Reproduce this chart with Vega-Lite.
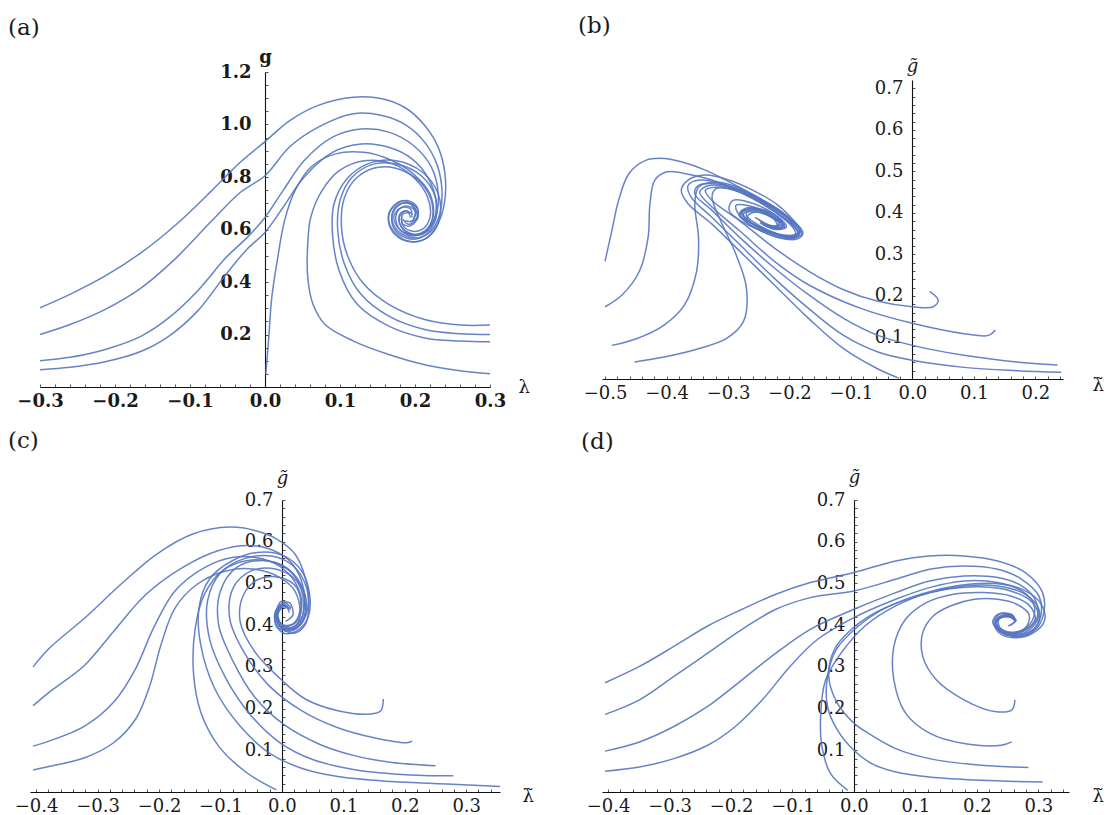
{
  "$schema": "https://vega.github.io/schema/vega-lite/v6.json",
  "padding": {"left": 8, "top": 15, "right": 0, "bottom": 0},
  "background": "white",
  "columns": 2,
  "spacing": {"row": 113, "column": 102},
  "center": true,
  "bounds": "flush",
  "datasets": {
    "a": [
      {"c":1,"x":-0.3,"y":0.302},{"c":1,"x":-0.26,"y":0.353},{"c":1,"x":-0.213,"y":0.423},{"c":1,"x":-0.165,"y":0.512},{"c":1,"x":-0.118,"y":0.62},{"c":1,"x":-0.071,"y":0.748},{"c":1,"x":-0.033,"y":0.856},{"c":1,"x":0,"y":0.935},{"c":1,"x":0.033,"y":1.015},{"c":1,"x":0.071,"y":1.073},{"c":1,"x":0.118,"y":1.104},{"c":1,"x":0.156,"y":1.098},{"c":1,"x":0.189,"y":1.06},{"c":1,"x":0.213,"y":0.996},{"c":1,"x":0.231,"y":0.913},{"c":1,"x":0.24,"y":0.811},{"c":1,"x":0.239,"y":0.697},{"c":1,"x":0.229,"y":0.614},{"c":1,"x":0.213,"y":0.563},{"c":1,"x":0.194,"y":0.554},{"c":1,"x":0.175,"y":0.582},{"c":1,"x":0.165,"y":0.633},{"c":1,"x":0.17,"y":0.684},{"c":1,"x":0.184,"y":0.71},{"c":1,"x":0.198,"y":0.69},{"c":1,"x":0.203,"y":0.646},{"c":1,"x":0.194,"y":0.614},{"c":1,"x":0.184,"y":0.62},{"c":1,"x":0.182,"y":0.646},
      {"c":2,"x":-0.3,"y":0.2},{"c":2,"x":-0.26,"y":0.238},{"c":2,"x":-0.213,"y":0.296},{"c":2,"x":-0.165,"y":0.378},{"c":2,"x":-0.118,"y":0.493},{"c":2,"x":-0.071,"y":0.633},{"c":2,"x":-0.033,"y":0.741},{"c":2,"x":0,"y":0.805},{"c":2,"x":0.033,"y":0.915},{"c":2,"x":0.071,"y":0.99},{"c":2,"x":0.118,"y":1.041},{"c":2,"x":0.156,"y":1.034},{"c":2,"x":0.189,"y":0.996},{"c":2,"x":0.213,"y":0.932},{"c":2,"x":0.229,"y":0.85},{"c":2,"x":0.236,"y":0.748},{"c":2,"x":0.233,"y":0.659},{"c":2,"x":0.222,"y":0.595},{"c":2,"x":0.205,"y":0.569},{"c":2,"x":0.187,"y":0.576},{"c":2,"x":0.172,"y":0.614},{"c":2,"x":0.17,"y":0.665},{"c":2,"x":0.18,"y":0.697},{"c":2,"x":0.194,"y":0.697},{"c":2,"x":0.201,"y":0.665},{"c":2,"x":0.196,"y":0.633},{"c":2,"x":0.187,"y":0.633},
      {"c":3,"x":-0.3,"y":0.1},{"c":3,"x":-0.26,"y":0.113},{"c":3,"x":-0.213,"y":0.143},{"c":3,"x":-0.165,"y":0.194},{"c":3,"x":-0.128,"y":0.264},{"c":3,"x":-0.09,"y":0.366},{"c":3,"x":-0.052,"y":0.493},{"c":3,"x":-0.024,"y":0.569},{"c":3,"x":0,"y":0.646},{"c":3,"x":0.024,"y":0.748},{"c":3,"x":0.052,"y":0.862},{"c":3,"x":0.09,"y":0.952},{"c":3,"x":0.128,"y":0.983},{"c":3,"x":0.165,"y":0.971},{"c":3,"x":0.198,"y":0.92},{"c":3,"x":0.222,"y":0.837},{"c":3,"x":0.231,"y":0.735},{"c":3,"x":0.227,"y":0.646},{"c":3,"x":0.213,"y":0.589},{"c":3,"x":0.194,"y":0.582},{"c":3,"x":0.177,"y":0.608},{"c":3,"x":0.172,"y":0.652},{"c":3,"x":0.182,"y":0.684},{"c":3,"x":0.194,"y":0.678},{"c":3,"x":0.196,"y":0.646},
      {"c":4,"x":-0.3,"y":0.066},{"c":4,"x":-0.26,"y":0.075},{"c":4,"x":-0.213,"y":0.096},{"c":4,"x":-0.165,"y":0.136},{"c":4,"x":-0.128,"y":0.194},{"c":4,"x":-0.09,"y":0.289},{"c":4,"x":-0.052,"y":0.429},{"c":4,"x":-0.024,"y":0.525},{"c":4,"x":0,"y":0.589},{"c":4,"x":0.024,"y":0.684},{"c":4,"x":0.052,"y":0.799},{"c":4,"x":0.09,"y":0.894},{"c":4,"x":0.128,"y":0.926},{"c":4,"x":0.165,"y":0.913},{"c":4,"x":0.196,"y":0.869},{"c":4,"x":0.217,"y":0.799},{"c":4,"x":0.228,"y":0.71},{"c":4,"x":0.224,"y":0.627},{"c":4,"x":0.21,"y":0.582},{"c":4,"x":0.191,"y":0.589},{"c":4,"x":0.18,"y":0.62},{"c":4,"x":0.18,"y":0.659},{"c":4,"x":0.189,"y":0.671},{"c":4,"x":0.194,"y":0.646},
      {"c":5,"x":0.001,"y":0.047},{"c":5,"x":0.005,"y":0.187},{"c":5,"x":0.009,"y":0.34},{"c":5,"x":0.017,"y":0.493},{"c":5,"x":0.026,"y":0.633},{"c":5,"x":0.04,"y":0.748},{"c":5,"x":0.061,"y":0.837},{"c":5,"x":0.094,"y":0.888},{"c":5,"x":0.132,"y":0.894},{"c":5,"x":0.17,"y":0.862},{"c":5,"x":0.198,"y":0.811},{"c":5,"x":0.22,"y":0.735},{"c":5,"x":0.224,"y":0.646},{"c":5,"x":0.213,"y":0.595},{"c":5,"x":0.196,"y":0.582},{"c":5,"x":0.182,"y":0.608},{"c":5,"x":0.179,"y":0.646},{"c":5,"x":0.187,"y":0.671},{"c":5,"x":0.196,"y":0.659},
      {"c":6,"x":0.3,"y":0.05},{"c":6,"x":0.26,"y":0.062},{"c":6,"x":0.213,"y":0.085},{"c":6,"x":0.165,"y":0.124},{"c":6,"x":0.118,"y":0.175},{"c":6,"x":0.08,"y":0.238},{"c":6,"x":0.064,"y":0.315},{"c":6,"x":0.057,"y":0.417},{"c":6,"x":0.057,"y":0.544},{"c":6,"x":0.061,"y":0.646},{"c":6,"x":0.076,"y":0.748},{"c":6,"x":0.099,"y":0.824},{"c":6,"x":0.132,"y":0.862},{"c":6,"x":0.17,"y":0.85},{"c":6,"x":0.198,"y":0.799},{"c":6,"x":0.217,"y":0.722},{"c":6,"x":0.22,"y":0.646},{"c":6,"x":0.21,"y":0.601},{"c":6,"x":0.194,"y":0.595},{"c":6,"x":0.183,"y":0.62},{"c":6,"x":0.184,"y":0.659},{"c":6,"x":0.194,"y":0.665},
      {"c":7,"x":0.3,"y":0.236},{"c":7,"x":0.26,"y":0.236},{"c":7,"x":0.213,"y":0.257},{"c":7,"x":0.165,"y":0.315},{"c":7,"x":0.132,"y":0.391},{"c":7,"x":0.111,"y":0.493},{"c":7,"x":0.102,"y":0.608},{"c":7,"x":0.106,"y":0.722},{"c":7,"x":0.123,"y":0.799},{"c":7,"x":0.151,"y":0.837},{"c":7,"x":0.184,"y":0.824},{"c":7,"x":0.213,"y":0.761},{"c":7,"x":0.224,"y":0.671},{"c":7,"x":0.217,"y":0.601},{"c":7,"x":0.201,"y":0.576},{"c":7,"x":0.184,"y":0.589},{"c":7,"x":0.175,"y":0.627},{"c":7,"x":0.177,"y":0.671},{"c":7,"x":0.189,"y":0.69},{"c":7,"x":0.2,"y":0.671},{"c":7,"x":0.198,"y":0.639},
      {"c":8,"x":0.3,"y":0.2},{"c":8,"x":0.26,"y":0.203},{"c":8,"x":0.213,"y":0.219},{"c":8,"x":0.165,"y":0.27},{"c":8,"x":0.128,"y":0.353},{"c":8,"x":0.106,"y":0.468},{"c":8,"x":0.097,"y":0.595},{"c":8,"x":0.1,"y":0.71},{"c":8,"x":0.116,"y":0.799},{"c":8,"x":0.146,"y":0.85},{"c":8,"x":0.184,"y":0.843},{"c":8,"x":0.215,"y":0.786},{"c":8,"x":0.229,"y":0.697},{"c":8,"x":0.224,"y":0.614},{"c":8,"x":0.208,"y":0.569},{"c":8,"x":0.189,"y":0.567},{"c":8,"x":0.174,"y":0.595},{"c":8,"x":0.169,"y":0.639},{"c":8,"x":0.175,"y":0.684},{"c":8,"x":0.189,"y":0.703},{"c":8,"x":0.202,"y":0.684},{"c":8,"x":0.203,"y":0.646},{"c":8,"x":0.194,"y":0.627},
      {"c":9,"x":0.3,"y":0.172},{"c":9,"x":0.26,"y":0.175},{"c":9,"x":0.213,"y":0.187},{"c":9,"x":0.165,"y":0.232},{"c":9,"x":0.123,"y":0.315},{"c":9,"x":0.099,"y":0.442},{"c":9,"x":0.09,"y":0.582},{"c":9,"x":0.092,"y":0.697},{"c":9,"x":0.109,"y":0.792},{"c":9,"x":0.137,"y":0.85},{"c":9,"x":0.175,"y":0.862},{"c":9,"x":0.21,"y":0.818},{"c":9,"x":0.231,"y":0.735},{"c":9,"x":0.233,"y":0.646},{"c":9,"x":0.222,"y":0.582},{"c":9,"x":0.203,"y":0.554},{"c":9,"x":0.182,"y":0.563},{"c":9,"x":0.168,"y":0.601},{"c":9,"x":0.165,"y":0.659},{"c":9,"x":0.175,"y":0.697},{"c":9,"x":0.191,"y":0.71},{"c":9,"x":0.203,"y":0.684},{"c":9,"x":0.203,"y":0.639},{"c":9,"x":0.191,"y":0.62},{"c":9,"x":0.184,"y":0.639}
    ],
    "b": [
      {"c":1,"x":-0.5,"y":0.284},{"c":1,"x":-0.489,"y":0.357},{"c":1,"x":-0.478,"y":0.43},{"c":1,"x":-0.461,"y":0.495},{"c":1,"x":-0.433,"y":0.527},{"c":1,"x":-0.404,"y":0.531},{"c":1,"x":-0.376,"y":0.523},{"c":1,"x":-0.337,"y":0.503},{"c":1,"x":-0.292,"y":0.47},{"c":1,"x":-0.247,"y":0.434},{"c":1,"x":-0.208,"y":0.397},{"c":1,"x":-0.183,"y":0.357},{"c":1,"x":-0.191,"y":0.341},{"c":1,"x":-0.225,"y":0.349},{"c":1,"x":-0.27,"y":0.373},{"c":1,"x":-0.298,"y":0.406},{"c":1,"x":-0.292,"y":0.43},{"c":1,"x":-0.258,"y":0.422},{"c":1,"x":-0.219,"y":0.389},{"c":1,"x":-0.208,"y":0.365},{"c":1,"x":-0.23,"y":0.369},{"c":1,"x":-0.256,"y":0.389},
      {"c":2,"x":-0.5,"y":0.174},{"c":2,"x":-0.472,"y":0.203},{"c":2,"x":-0.444,"y":0.26},{"c":2,"x":-0.43,"y":0.341},{"c":2,"x":-0.427,"y":0.422},{"c":2,"x":-0.419,"y":0.479},{"c":2,"x":-0.399,"y":0.499},{"c":2,"x":-0.371,"y":0.495},{"c":2,"x":-0.326,"y":0.479},{"c":2,"x":-0.281,"y":0.45},{"c":2,"x":-0.236,"y":0.414},{"c":2,"x":-0.197,"y":0.373},{"c":2,"x":-0.185,"y":0.349},{"c":2,"x":-0.208,"y":0.345},{"c":2,"x":-0.247,"y":0.365},{"c":2,"x":-0.281,"y":0.393},{"c":2,"x":-0.287,"y":0.418},{"c":2,"x":-0.258,"y":0.414},{"c":2,"x":-0.225,"y":0.385},{"c":2,"x":-0.219,"y":0.369},
      {"c":3,"x":-0.489,"y":0.081},{"c":3,"x":-0.449,"y":0.097},{"c":3,"x":-0.404,"y":0.13},{"c":3,"x":-0.371,"y":0.178},{"c":3,"x":-0.351,"y":0.26},{"c":3,"x":-0.348,"y":0.341},{"c":3,"x":-0.354,"y":0.422},{"c":3,"x":-0.348,"y":0.462},{"c":3,"x":-0.326,"y":0.474},{"c":3,"x":-0.292,"y":0.466},{"c":3,"x":-0.253,"y":0.438},{"c":3,"x":-0.213,"y":0.401},{"c":3,"x":-0.191,"y":0.365},{"c":3,"x":-0.186,"y":0.348},{"c":3,"x":-0.205,"y":0.343},{"c":3,"x":-0.24,"y":0.36},{"c":3,"x":-0.272,"y":0.386},{"c":3,"x":-0.278,"y":0.405},{"c":3,"x":-0.25,"y":0.405},{"c":3,"x":-0.222,"y":0.385},{"c":3,"x":-0.21,"y":0.368},{"c":3,"x":-0.228,"y":0.366},
      {"c":4,"x":-0.452,"y":0.041},{"c":4,"x":-0.404,"y":0.053},{"c":4,"x":-0.348,"y":0.073},{"c":4,"x":-0.303,"y":0.097},{"c":4,"x":-0.275,"y":0.138},{"c":4,"x":-0.27,"y":0.219},{"c":4,"x":-0.287,"y":0.3},{"c":4,"x":-0.312,"y":0.381},{"c":4,"x":-0.326,"y":0.438},{"c":4,"x":-0.32,"y":0.458},{"c":4,"x":-0.298,"y":0.458},{"c":4,"x":-0.258,"y":0.434},{"c":4,"x":-0.219,"y":0.397},{"c":4,"x":-0.197,"y":0.369},{"c":4,"x":-0.19,"y":0.35},{"c":4,"x":-0.21,"y":0.347},{"c":4,"x":-0.245,"y":0.366},{"c":4,"x":-0.268,"y":0.392},{"c":4,"x":-0.255,"y":0.402},{"c":4,"x":-0.228,"y":0.388},{"c":4,"x":-0.215,"y":0.372},{"c":4,"x":-0.235,"y":0.37},{"c":4,"x":-0.245,"y":0.38},
      {"c":5,"x":0.028,"y":0.211},{"c":5,"x":0.042,"y":0.19},{"c":5,"x":0.034,"y":0.174},{"c":5,"x":0,"y":0.174},{"c":5,"x":-0.056,"y":0.187},{"c":5,"x":-0.112,"y":0.215},{"c":5,"x":-0.169,"y":0.26},{"c":5,"x":-0.225,"y":0.316},{"c":5,"x":-0.281,"y":0.381},{"c":5,"x":-0.326,"y":0.43},{"c":5,"x":-0.337,"y":0.454},{"c":5,"x":-0.32,"y":0.462},{"c":5,"x":-0.281,"y":0.45},{"c":5,"x":-0.236,"y":0.418},{"c":5,"x":-0.202,"y":0.381},{"c":5,"x":-0.186,"y":0.355},{"c":5,"x":-0.198,"y":0.343},{"c":5,"x":-0.232,"y":0.355},{"c":5,"x":-0.265,"y":0.38},{"c":5,"x":-0.27,"y":0.4},{"c":5,"x":-0.245,"y":0.4},{"c":5,"x":-0.218,"y":0.378},{"c":5,"x":-0.222,"y":0.364},{"c":5,"x":-0.24,"y":0.372},
      {"c":6,"x":0.135,"y":0.118},{"c":6,"x":0.124,"y":0.105},{"c":6,"x":0.084,"y":0.109},{"c":6,"x":0,"y":0.134},{"c":6,"x":-0.084,"y":0.17},{"c":6,"x":-0.169,"y":0.227},{"c":6,"x":-0.225,"y":0.284},{"c":6,"x":-0.281,"y":0.357},{"c":6,"x":-0.326,"y":0.414},{"c":6,"x":-0.346,"y":0.45},{"c":6,"x":-0.331,"y":0.466},{"c":6,"x":-0.29,"y":0.458},{"c":6,"x":-0.245,"y":0.428},{"c":6,"x":-0.205,"y":0.39},{"c":6,"x":-0.184,"y":0.358},{"c":6,"x":-0.19,"y":0.342},{"c":6,"x":-0.22,"y":0.348},{"c":6,"x":-0.258,"y":0.372},{"c":6,"x":-0.275,"y":0.397},{"c":6,"x":-0.255,"y":0.408},{"c":6,"x":-0.225,"y":0.39},{"c":6,"x":-0.208,"y":0.37},{"c":6,"x":-0.225,"y":0.362},{"c":6,"x":-0.248,"y":0.376},
      {"c":7,"x":0.236,"y":0.034},{"c":7,"x":0.169,"y":0.041},{"c":7,"x":0.084,"y":0.057},{"c":7,"x":0,"y":0.081},{"c":7,"x":-0.056,"y":0.105},{"c":7,"x":-0.112,"y":0.146},{"c":7,"x":-0.169,"y":0.203},{"c":7,"x":-0.225,"y":0.268},{"c":7,"x":-0.281,"y":0.341},{"c":7,"x":-0.326,"y":0.406},{"c":7,"x":-0.354,"y":0.446},{"c":7,"x":-0.348,"y":0.466},{"c":7,"x":-0.32,"y":0.47},{"c":7,"x":-0.28,"y":0.455},{"c":7,"x":-0.24,"y":0.425},{"c":7,"x":-0.203,"y":0.388},{"c":7,"x":-0.182,"y":0.356},{"c":7,"x":-0.193,"y":0.34},{"c":7,"x":-0.228,"y":0.35},{"c":7,"x":-0.262,"y":0.375},{"c":7,"x":-0.277,"y":0.4},{"c":7,"x":-0.26,"y":0.41},{"c":7,"x":-0.23,"y":0.395},{"c":7,"x":-0.212,"y":0.372},{"c":7,"x":-0.232,"y":0.365},
      {"c":8,"x":0.242,"y":0.016},{"c":8,"x":0.169,"y":0.02},{"c":8,"x":0.084,"y":0.028},{"c":8,"x":0,"y":0.045},{"c":8,"x":-0.056,"y":0.065},{"c":8,"x":-0.112,"y":0.105},{"c":8,"x":-0.169,"y":0.17},{"c":8,"x":-0.225,"y":0.243},{"c":8,"x":-0.281,"y":0.324},{"c":8,"x":-0.326,"y":0.389},{"c":8,"x":-0.36,"y":0.438},{"c":8,"x":-0.365,"y":0.466},{"c":8,"x":-0.346,"y":0.479},{"c":8,"x":-0.31,"y":0.47},{"c":8,"x":-0.265,"y":0.445},{"c":8,"x":-0.22,"y":0.41},{"c":8,"x":-0.19,"y":0.372},{"c":8,"x":-0.18,"y":0.35},{"c":8,"x":-0.196,"y":0.338},{"c":8,"x":-0.232,"y":0.348},{"c":8,"x":-0.268,"y":0.375},{"c":8,"x":-0.28,"y":0.398},{"c":8,"x":-0.262,"y":0.412},{"c":8,"x":-0.232,"y":0.4},{"c":8,"x":-0.212,"y":0.378},{"c":8,"x":-0.215,"y":0.362},{"c":8,"x":-0.238,"y":0.368},{"c":8,"x":-0.25,"y":0.385},
      {"c":9,"x":-0.022,"y":0.002},{"c":9,"x":-0.056,"y":0.024},{"c":9,"x":-0.112,"y":0.073},{"c":9,"x":-0.169,"y":0.146},{"c":9,"x":-0.225,"y":0.227},{"c":9,"x":-0.281,"y":0.308},{"c":9,"x":-0.326,"y":0.373},{"c":9,"x":-0.365,"y":0.422},{"c":9,"x":-0.376,"y":0.454},{"c":9,"x":-0.365,"y":0.479},{"c":9,"x":-0.337,"y":0.491},{"c":9,"x":-0.3,"y":0.48},{"c":9,"x":-0.26,"y":0.455},{"c":9,"x":-0.22,"y":0.42},{"c":9,"x":-0.192,"y":0.38},{"c":9,"x":-0.178,"y":0.352},{"c":9,"x":-0.188,"y":0.337},{"c":9,"x":-0.222,"y":0.342},{"c":9,"x":-0.26,"y":0.368},{"c":9,"x":-0.282,"y":0.395},{"c":9,"x":-0.27,"y":0.412},{"c":9,"x":-0.238,"y":0.405},{"c":9,"x":-0.214,"y":0.385},{"c":9,"x":-0.205,"y":0.366},{"c":9,"x":-0.222,"y":0.36},{"c":9,"x":-0.245,"y":0.374}
    ],
    "c": [
      {"c":1,"x":-0.405,"y":0.3},{"c":1,"x":-0.379,"y":0.344},{"c":1,"x":-0.321,"y":0.417},{"c":1,"x":-0.262,"y":0.498},{"c":1,"x":-0.203,"y":0.571},{"c":1,"x":-0.144,"y":0.619},{"c":1,"x":-0.085,"y":0.635},{"c":1,"x":-0.044,"y":0.627},{"c":1,"x":-0.009,"y":0.607},{"c":1,"x":0.021,"y":0.571},{"c":1,"x":0.038,"y":0.514},{"c":1,"x":0.044,"y":0.449},{"c":1,"x":0.038,"y":0.401},{"c":1,"x":0.021,"y":0.381},{"c":1,"x":0.003,"y":0.389},{"c":1,"x":-0.009,"y":0.417},{"c":1,"x":-0.003,"y":0.449},{"c":1,"x":0.012,"y":0.454},{"c":1,"x":0.018,"y":0.425},{"c":1,"x":0.006,"y":0.409},
      {"c":2,"x":-0.405,"y":0.207},{"c":2,"x":-0.379,"y":0.239},{"c":2,"x":-0.321,"y":0.304},{"c":2,"x":-0.274,"y":0.385},{"c":2,"x":-0.221,"y":0.474},{"c":2,"x":-0.162,"y":0.538},{"c":2,"x":-0.103,"y":0.579},{"c":2,"x":-0.056,"y":0.591},{"c":2,"x":-0.021,"y":0.583},{"c":2,"x":0.012,"y":0.555},{"c":2,"x":0.032,"y":0.506},{"c":2,"x":0.037,"y":0.449},{"c":2,"x":0.029,"y":0.409},{"c":2,"x":0.012,"y":0.393},{"c":2,"x":-0.003,"y":0.405},{"c":2,"x":-0.009,"y":0.433},{"c":2,"x":0,"y":0.458},{"c":2,"x":0.015,"y":0.441},
      {"c":3,"x":-0.405,"y":0.11},{"c":3,"x":-0.379,"y":0.122},{"c":3,"x":-0.321,"y":0.158},{"c":3,"x":-0.274,"y":0.215},{"c":3,"x":-0.238,"y":0.296},{"c":3,"x":-0.209,"y":0.393},{"c":3,"x":-0.174,"y":0.482},{"c":3,"x":-0.126,"y":0.538},{"c":3,"x":-0.079,"y":0.563},{"c":3,"x":-0.032,"y":0.559},{"c":3,"x":0.003,"y":0.534},{"c":3,"x":0.026,"y":0.49},{"c":3,"x":0.032,"y":0.441},{"c":3,"x":0.022,"y":0.405},{"c":3,"x":0.004,"y":0.398},{"c":3,"x":-0.008,"y":0.42},{"c":3,"x":0.002,"y":0.45},{"c":3,"x":0.014,"y":0.437},
      {"c":4,"x":-0.405,"y":0.053},{"c":4,"x":-0.379,"y":0.061},{"c":4,"x":-0.321,"y":0.082},{"c":4,"x":-0.274,"y":0.118},{"c":4,"x":-0.238,"y":0.175},{"c":4,"x":-0.215,"y":0.255},{"c":4,"x":-0.197,"y":0.352},{"c":4,"x":-0.174,"y":0.441},{"c":4,"x":-0.138,"y":0.498},{"c":4,"x":-0.091,"y":0.53},{"c":4,"x":-0.044,"y":0.534},{"c":4,"x":-0.003,"y":0.514},{"c":4,"x":0.021,"y":0.482},{"c":4,"x":0.029,"y":0.433},{"c":4,"x":0.018,"y":0.403},{"c":4,"x":0,"y":0.402},{"c":4,"x":-0.006,"y":0.428},{"c":4,"x":0.006,"y":0.447},{"c":4,"x":0.012,"y":0.43},
      {"c":5,"x":0.165,"y":0.223},{"c":5,"x":0.161,"y":0.195},{"c":5,"x":0.144,"y":0.187},{"c":5,"x":0.091,"y":0.195},{"c":5,"x":0.038,"y":0.223},{"c":5,"x":-0.003,"y":0.272},{"c":5,"x":-0.044,"y":0.336},{"c":5,"x":-0.068,"y":0.409},{"c":5,"x":-0.062,"y":0.474},{"c":5,"x":-0.038,"y":0.51},{"c":5,"x":-0.003,"y":0.514},{"c":5,"x":0.024,"y":0.49},{"c":5,"x":0.031,"y":0.441},{"c":5,"x":0.024,"y":0.401},{"c":5,"x":0.003,"y":0.393},{"c":5,"x":-0.009,"y":0.417},{"c":5,"x":-0.003,"y":0.446},{"c":5,"x":0.01,"y":0.44},
      {"c":6,"x":0.212,"y":0.122},{"c":6,"x":0.203,"y":0.118},{"c":6,"x":0.15,"y":0.13},{"c":6,"x":0.091,"y":0.154},{"c":6,"x":0.032,"y":0.195},{"c":6,"x":-0.021,"y":0.255},{"c":6,"x":-0.062,"y":0.336},{"c":6,"x":-0.085,"y":0.417},{"c":6,"x":-0.079,"y":0.49},{"c":6,"x":-0.05,"y":0.53},{"c":6,"x":-0.009,"y":0.534},{"c":6,"x":0.024,"y":0.506},{"c":6,"x":0.035,"y":0.458},{"c":6,"x":0.03,"y":0.41},{"c":6,"x":0.01,"y":0.39},{"c":6,"x":-0.007,"y":0.405},{"c":6,"x":-0.005,"y":0.44},{"c":6,"x":0.01,"y":0.445},
      {"c":7,"x":0.25,"y":0.063},{"c":7,"x":0.179,"y":0.071},{"c":7,"x":0.121,"y":0.086},{"c":7,"x":0.062,"y":0.114},{"c":7,"x":0.003,"y":0.162},{"c":7,"x":-0.044,"y":0.227},{"c":7,"x":-0.079,"y":0.312},{"c":7,"x":-0.103,"y":0.401},{"c":7,"x":-0.1,"y":0.482},{"c":7,"x":-0.074,"y":0.538},{"c":7,"x":-0.032,"y":0.555},{"c":7,"x":0.005,"y":0.54},{"c":7,"x":0.03,"y":0.5},{"c":7,"x":0.04,"y":0.45},{"c":7,"x":0.032,"y":0.405},{"c":7,"x":0.012,"y":0.388},{"c":7,"x":-0.005,"y":0.4},{"c":7,"x":-0.008,"y":0.435},{"c":7,"x":0.006,"y":0.45},
      {"c":8,"x":0.279,"y":0.039},{"c":8,"x":0.209,"y":0.041},{"c":8,"x":0.121,"y":0.053},{"c":8,"x":0.05,"y":0.078},{"c":8,"x":-0.003,"y":0.118},{"c":8,"x":-0.05,"y":0.183},{"c":8,"x":-0.091,"y":0.272},{"c":8,"x":-0.118,"y":0.369},{"c":8,"x":-0.121,"y":0.458},{"c":8,"x":-0.1,"y":0.525},{"c":8,"x":-0.06,"y":0.56},{"c":8,"x":-0.015,"y":0.565},{"c":8,"x":0.02,"y":0.54},{"c":8,"x":0.04,"y":0.49},{"c":8,"x":0.042,"y":0.44},{"c":8,"x":0.03,"y":0.4},{"c":8,"x":0.01,"y":0.385},{"c":8,"x":-0.008,"y":0.398},{"c":8,"x":-0.01,"y":0.43},{"c":8,"x":0.005,"y":0.448},
      {"c":9,"x":0.356,"y":0.013},{"c":9,"x":0.268,"y":0.019},{"c":9,"x":0.179,"y":0.025},{"c":9,"x":0.091,"y":0.037},{"c":9,"x":0.032,"y":0.057},{"c":9,"x":-0.021,"y":0.094},{"c":9,"x":-0.068,"y":0.158},{"c":9,"x":-0.109,"y":0.247},{"c":9,"x":-0.132,"y":0.352},{"c":9,"x":-0.135,"y":0.441},{"c":9,"x":-0.118,"y":0.51},{"c":9,"x":-0.08,"y":0.555},{"c":9,"x":-0.035,"y":0.575},{"c":9,"x":0.005,"y":0.565},{"c":9,"x":0.032,"y":0.53},{"c":9,"x":0.045,"y":0.475},{"c":9,"x":0.043,"y":0.42},{"c":9,"x":0.028,"y":0.39},{"c":9,"x":0.005,"y":0.38},{"c":9,"x":-0.01,"y":0.4},{"c":9,"x":-0.01,"y":0.435},{"c":9,"x":0.004,"y":0.452},
      {"c":10,"x":-0.009,"y":0.005},{"c":10,"x":-0.056,"y":0.045},{"c":10,"x":-0.103,"y":0.11},{"c":10,"x":-0.132,"y":0.191},{"c":10,"x":-0.144,"y":0.288},{"c":10,"x":-0.141,"y":0.393},{"c":10,"x":-0.126,"y":0.474},{"c":10,"x":-0.097,"y":0.53},{"c":10,"x":-0.056,"y":0.555},{"c":10,"x":-0.015,"y":0.551},{"c":10,"x":0.018,"y":0.522},{"c":10,"x":0.036,"y":0.47},{"c":10,"x":0.036,"y":0.42},{"c":10,"x":0.02,"y":0.392},{"c":10,"x":0,"y":0.392},{"c":10,"x":-0.01,"y":0.42},{"c":10,"x":0,"y":0.448},{"c":10,"x":0.012,"y":0.44}
    ],
    "d": [
      {"c":1,"x":-0.405,"y":0.262},{"c":1,"x":-0.349,"y":0.301},{"c":1,"x":-0.293,"y":0.349},{"c":1,"x":-0.238,"y":0.398},{"c":1,"x":-0.182,"y":0.438},{"c":1,"x":-0.127,"y":0.474},{"c":1,"x":-0.071,"y":0.502},{"c":1,"x":0,"y":0.526},{"c":1,"x":0.068,"y":0.554},{"c":1,"x":0.123,"y":0.566},{"c":1,"x":0.179,"y":0.566},{"c":1,"x":0.234,"y":0.554},{"c":1,"x":0.279,"y":0.526},{"c":1,"x":0.307,"y":0.478},{"c":1,"x":0.309,"y":0.43},{"c":1,"x":0.296,"y":0.39},{"c":1,"x":0.268,"y":0.373},{"c":1,"x":0.24,"y":0.382},{"c":1,"x":0.226,"y":0.406},{"c":1,"x":0.234,"y":0.426},{"c":1,"x":0.257,"y":0.426},{"c":1,"x":0.262,"y":0.41},{"c":1,"x":0.251,"y":0.398},
      {"c":2,"x":-0.405,"y":0.186},{"c":2,"x":-0.349,"y":0.221},{"c":2,"x":-0.293,"y":0.277},{"c":2,"x":-0.238,"y":0.333},{"c":2,"x":-0.182,"y":0.39},{"c":2,"x":-0.127,"y":0.438},{"c":2,"x":-0.071,"y":0.466},{"c":2,"x":0,"y":0.482},{"c":2,"x":0.068,"y":0.51},{"c":2,"x":0.123,"y":0.534},{"c":2,"x":0.179,"y":0.542},{"c":2,"x":0.234,"y":0.534},{"c":2,"x":0.273,"y":0.51},{"c":2,"x":0.301,"y":0.47},{"c":2,"x":0.304,"y":0.422},{"c":2,"x":0.29,"y":0.386},{"c":2,"x":0.262,"y":0.373},{"c":2,"x":0.238,"y":0.388},{"c":2,"x":0.232,"y":0.41},{"c":2,"x":0.25,"y":0.422},{"c":2,"x":0.264,"y":0.412},{"c":2,"x":0.255,"y":0.4},
      {"c":3,"x":-0.405,"y":0.098},{"c":3,"x":-0.349,"y":0.12},{"c":3,"x":-0.293,"y":0.157},{"c":3,"x":-0.238,"y":0.205},{"c":3,"x":-0.182,"y":0.269},{"c":3,"x":-0.127,"y":0.333},{"c":3,"x":-0.071,"y":0.39},{"c":3,"x":0,"y":0.438},{"c":3,"x":0.068,"y":0.478},{"c":3,"x":0.123,"y":0.506},{"c":3,"x":0.179,"y":0.518},{"c":3,"x":0.234,"y":0.514},{"c":3,"x":0.273,"y":0.494},{"c":3,"x":0.296,"y":0.458},{"c":3,"x":0.298,"y":0.418},{"c":3,"x":0.28,"y":0.388},{"c":3,"x":0.252,"y":0.38},{"c":3,"x":0.232,"y":0.395},{"c":3,"x":0.235,"y":0.418},{"c":3,"x":0.255,"y":0.425},{"c":3,"x":0.263,"y":0.408},
      {"c":4,"x":-0.405,"y":0.05},{"c":4,"x":-0.349,"y":0.06},{"c":4,"x":-0.293,"y":0.08},{"c":4,"x":-0.238,"y":0.112},{"c":4,"x":-0.193,"y":0.157},{"c":4,"x":-0.149,"y":0.221},{"c":4,"x":-0.104,"y":0.301},{"c":4,"x":-0.06,"y":0.365},{"c":4,"x":0,"y":0.418},{"c":4,"x":0.068,"y":0.462},{"c":4,"x":0.123,"y":0.49},{"c":4,"x":0.179,"y":0.506},{"c":4,"x":0.234,"y":0.502},{"c":4,"x":0.273,"y":0.482},{"c":4,"x":0.293,"y":0.45},{"c":4,"x":0.29,"y":0.41},{"c":4,"x":0.27,"y":0.385},{"c":4,"x":0.245,"y":0.385},{"c":4,"x":0.232,"y":0.405},{"c":4,"x":0.245,"y":0.422},{"c":4,"x":0.26,"y":0.415},
      {"c":5,"x":-0.01,"y":0.004},{"c":5,"x":-0.038,"y":0.044},{"c":5,"x":-0.052,"y":0.108},{"c":5,"x":-0.054,"y":0.189},{"c":5,"x":-0.046,"y":0.269},{"c":5,"x":-0.021,"y":0.333},{"c":5,"x":0.018,"y":0.398},{"c":5,"x":0.068,"y":0.446},{"c":5,"x":0.123,"y":0.478},{"c":5,"x":0.179,"y":0.494},{"c":5,"x":0.234,"y":0.494},{"c":5,"x":0.279,"y":0.474},{"c":5,"x":0.301,"y":0.438},{"c":5,"x":0.298,"y":0.4},{"c":5,"x":0.275,"y":0.378},{"c":5,"x":0.245,"y":0.38},{"c":5,"x":0.23,"y":0.4},{"c":5,"x":0.24,"y":0.42},{"c":5,"x":0.258,"y":0.418},
      {"c":6,"x":0.262,"y":0.221},{"c":6,"x":0.257,"y":0.197},{"c":6,"x":0.229,"y":0.193},{"c":6,"x":0.179,"y":0.221},{"c":6,"x":0.134,"y":0.269},{"c":6,"x":0.112,"y":0.325},{"c":6,"x":0.112,"y":0.382},{"c":6,"x":0.129,"y":0.422},{"c":6,"x":0.157,"y":0.446},{"c":6,"x":0.196,"y":0.462},{"c":6,"x":0.234,"y":0.462},{"c":6,"x":0.265,"y":0.45},{"c":6,"x":0.285,"y":0.425},{"c":6,"x":0.28,"y":0.395},{"c":6,"x":0.258,"y":0.383},{"c":6,"x":0.238,"y":0.393},{"c":6,"x":0.236,"y":0.415},{"c":6,"x":0.252,"y":0.42},
      {"c":7,"x":0.257,"y":0.12},{"c":7,"x":0.24,"y":0.112},{"c":7,"x":0.179,"y":0.116},{"c":7,"x":0.123,"y":0.141},{"c":7,"x":0.084,"y":0.189},{"c":7,"x":0.065,"y":0.269},{"c":7,"x":0.065,"y":0.349},{"c":7,"x":0.084,"y":0.414},{"c":7,"x":0.118,"y":0.454},{"c":7,"x":0.162,"y":0.474},{"c":7,"x":0.212,"y":0.478},{"c":7,"x":0.255,"y":0.47},{"c":7,"x":0.285,"y":0.448},{"c":7,"x":0.295,"y":0.415},{"c":7,"x":0.28,"y":0.39},{"c":7,"x":0.255,"y":0.38},{"c":7,"x":0.235,"y":0.39},{"c":7,"x":0.232,"y":0.412},{"c":7,"x":0.25,"y":0.424},{"c":7,"x":0.262,"y":0.41},
      {"c":8,"x":0.284,"y":0.059},{"c":8,"x":0.207,"y":0.064},{"c":8,"x":0.123,"y":0.08},{"c":8,"x":0.068,"y":0.104},{"c":8,"x":0.023,"y":0.141},{"c":8,"x":0,"y":0.165},{"c":8,"x":-0.027,"y":0.213},{"c":8,"x":-0.041,"y":0.277},{"c":8,"x":-0.032,"y":0.341},{"c":8,"x":-0.004,"y":0.39},{"c":8,"x":0.04,"y":0.434},{"c":8,"x":0.096,"y":0.466},{"c":8,"x":0.151,"y":0.486},{"c":8,"x":0.205,"y":0.492},{"c":8,"x":0.255,"y":0.482},{"c":8,"x":0.29,"y":0.455},{"c":8,"x":0.3,"y":0.42},{"c":8,"x":0.285,"y":0.388},{"c":8,"x":0.258,"y":0.377},{"c":8,"x":0.236,"y":0.388},{"c":8,"x":0.23,"y":0.41},{"c":8,"x":0.245,"y":0.425},{"c":8,"x":0.262,"y":0.418},
      {"c":9,"x":0.307,"y":0.024},{"c":9,"x":0.207,"y":0.028},{"c":9,"x":0.123,"y":0.036},{"c":9,"x":0.068,"y":0.048},{"c":9,"x":0.029,"y":0.068},{"c":9,"x":0,"y":0.1},{"c":9,"x":-0.027,"y":0.149},{"c":9,"x":-0.043,"y":0.205},{"c":9,"x":-0.043,"y":0.277},{"c":9,"x":-0.029,"y":0.341},{"c":9,"x":0.005,"y":0.395},{"c":9,"x":0.05,"y":0.44},{"c":9,"x":0.11,"y":0.475},{"c":9,"x":0.17,"y":0.495},{"c":9,"x":0.23,"y":0.5},{"c":9,"x":0.275,"y":0.485},{"c":9,"x":0.305,"y":0.45},{"c":9,"x":0.31,"y":0.41},{"c":9,"x":0.29,"y":0.38},{"c":9,"x":0.26,"y":0.37},{"c":9,"x":0.235,"y":0.383},{"c":9,"x":0.228,"y":0.41},{"c":9,"x":0.24,"y":0.428},{"c":9,"x":0.26,"y":0.422}
    ]
  },
  "concat": [
    {
      "width": 450, "height": 315,
      "title": {"text": "(a)", "dx": -32, "offset": -10, "baseline": "alphabetic"},
      "data": {"name": "a"},
      "mark": {"type": "line", "stroke": "#5575c2", "strokeWidth": 1.5, "opacity": 0.9, "clip": true, "interpolate": "catmull-rom"},
      "encoding": {
        "x": {"field": "x", "type": "quantitative", "scale": {"domain": [-0.3, 0.3], "nice": false, "zero": false},
          "axis": {"values": [-0.3,-0.28,-0.26,-0.24,-0.22,-0.2,-0.18,-0.16,-0.14,-0.12,-0.1,-0.08,-0.06,-0.04,-0.02,0,0.02,0.04,0.06,0.08,0.1,0.12,0.14,0.16,0.18,0.2,0.22,0.24,0.26,0.28,0.3],
            "labelExpr": "abs(datum.value*10-round(datum.value*10))<0.01 ? format(datum.value,'.1f') : ''",
            "labelFontWeight": "bold", "labelFontSize": 18,
            "title": "λ", "titleX": 478, "titleY": 0, "titleAlign": "left", "titleBaseline": "middle", "titleAngle": 0}},
        "y": {"field": "y", "type": "quantitative", "scale": {"domain": [0, 1.2], "nice": false},
          "axis": {"values": [0.05,0.1,0.15,0.2,0.25,0.3,0.35,0.4,0.45,0.5,0.55,0.6,0.65,0.7,0.75,0.8,0.85,0.9,0.95,1,1.05,1.1,1.15,1.2],
            "labelExpr": "abs(datum.value*5-round(datum.value*5))<0.01 ? format(datum.value,'.1f') : ''",
            "labelFontWeight": "bold", "labelFontSize": 18,
            "offset": -225, "labelPadding": 17,
            "title": "g", "titleFontWeight": "bold", "titleX": 0, "titleY": -15, "titleAlign": "center", "titleBaseline": "middle", "titleAngle": 0}},
        "detail": {"field": "c", "type": "nominal"},
        "order": {"value": null}
      }
    },
    {
      "width": 461, "height": 299,
      "title": {"text": "(b)", "dx": -24, "offset": 1, "baseline": "alphabetic"},
      "data": {"name": "b"},
      "mark": {"type": "line", "stroke": "#5575c2", "strokeWidth": 1.5, "opacity": 0.9, "clip": true, "interpolate": "catmull-rom"},
      "encoding": {
        "x": {"field": "x", "type": "quantitative", "scale": {"domain": [-0.505, 0.245], "nice": false, "zero": false},
          "axis": {"values": [-0.5,-0.48,-0.46,-0.44,-0.42,-0.4,-0.38,-0.36,-0.34,-0.32,-0.3,-0.28,-0.26,-0.24,-0.22,-0.2,-0.18,-0.16,-0.14,-0.12,-0.1,-0.08,-0.06,-0.04,-0.02,0,0.02,0.04,0.06,0.08,0.1,0.12,0.14,0.16,0.18,0.2,0.22,0.24],
            "labelExpr": "abs(datum.value*10-round(datum.value*10))<0.01 ? format(datum.value,'.1f') : ''",
            "title": "λ̃", "titleX": 490, "titleY": 6, "titleAlign": "left", "titleBaseline": "middle", "titleAngle": 0}},
        "y": {"field": "y", "type": "quantitative", "scale": {"domain": [0, 0.72], "nice": false},
          "axis": {"values": [0.02,0.04,0.06,0.08,0.1,0.12,0.14,0.16,0.18,0.2,0.22,0.24,0.26,0.28,0.3,0.32,0.34,0.36,0.38,0.4,0.42,0.44,0.46,0.48,0.5,0.52,0.54,0.56,0.58,0.6,0.62,0.64,0.66,0.68,0.7],
            "labelExpr": "abs(datum.value*10-round(datum.value*10))<0.01 ? format(datum.value,'.1f') : ''",
            "offset": -310, "labelPadding": 12,
            "title": "g̃", "titleFontStyle": "italic", "titleX": 0, "titleY": -14, "titleAlign": "center", "titleBaseline": "middle", "titleAngle": 0}},
        "detail": {"field": "c", "type": "nominal"},
        "order": {"value": null}
      }
    },
    {
      "width": 470, "height": 292,
      "title": {"text": "(c)", "dx": -22, "offset": -2, "baseline": "alphabetic"},
      "data": {"name": "c"},
      "mark": {"type": "line", "stroke": "#5575c2", "strokeWidth": 1.5, "opacity": 0.9, "clip": true, "interpolate": "catmull-rom"},
      "encoding": {
        "x": {"field": "x", "type": "quantitative", "scale": {"domain": [-0.41, 0.355], "nice": false, "zero": false},
          "axis": {"values": [-0.4,-0.38,-0.36,-0.34,-0.32,-0.3,-0.28,-0.26,-0.24,-0.22,-0.2,-0.18,-0.16,-0.14,-0.12,-0.1,-0.08,-0.06,-0.04,-0.02,0,0.02,0.04,0.06,0.08,0.1,0.12,0.14,0.16,0.18,0.2,0.22,0.24,0.26,0.28,0.3,0.32,0.34],
            "labelExpr": "abs(datum.value*10-round(datum.value*10))<0.01 ? format(datum.value,'.1f') : ''",
            "title": "λ̃", "titleX": 492, "titleY": 4, "titleAlign": "left", "titleBaseline": "middle", "titleAngle": 0}},
        "y": {"field": "y", "type": "quantitative", "scale": {"domain": [0, 0.7], "nice": false},
          "axis": {"values": [0.02,0.04,0.06,0.08,0.1,0.12,0.14,0.16,0.18,0.2,0.22,0.24,0.26,0.28,0.3,0.32,0.34,0.36,0.38,0.4,0.42,0.44,0.46,0.48,0.5,0.52,0.54,0.56,0.58,0.6,0.62,0.64,0.66,0.68,0.7],
            "labelExpr": "abs(datum.value*10-round(datum.value*10))<0.01 ? format(datum.value,'.1f') : ''",
            "offset": -252, "labelPadding": 12,
            "title": "g̃", "titleFontStyle": "italic", "titleX": 0, "titleY": -22, "titleAlign": "center", "titleBaseline": "middle", "titleAngle": 0}},
        "detail": {"field": "c", "type": "nominal"},
        "order": {"value": null}
      }
    },
    {
      "width": 467, "height": 292,
      "title": {"text": "(d)", "dx": -21, "offset": -4, "baseline": "alphabetic"},
      "data": {"name": "d"},
      "mark": {"type": "line", "stroke": "#5575c2", "strokeWidth": 1.5, "opacity": 0.9, "clip": true, "interpolate": "catmull-rom"},
      "encoding": {
        "x": {"field": "x", "type": "quantitative", "scale": {"domain": [-0.41, 0.35], "nice": false, "zero": false},
          "axis": {"values": [-0.4,-0.38,-0.36,-0.34,-0.32,-0.3,-0.28,-0.26,-0.24,-0.22,-0.2,-0.18,-0.16,-0.14,-0.12,-0.1,-0.08,-0.06,-0.04,-0.02,0,0.02,0.04,0.06,0.08,0.1,0.12,0.14,0.16,0.18,0.2,0.22,0.24,0.26,0.28,0.3,0.32,0.34],
            "labelExpr": "abs(datum.value*10-round(datum.value*10))<0.01 ? format(datum.value,'.1f') : ''",
            "title": "λ̃", "titleX": 490, "titleY": 4, "titleAlign": "left", "titleBaseline": "middle", "titleAngle": 0}},
        "y": {"field": "y", "type": "quantitative", "scale": {"domain": [0, 0.7], "nice": false},
          "axis": {"values": [0.02,0.04,0.06,0.08,0.1,0.12,0.14,0.16,0.18,0.2,0.22,0.24,0.26,0.28,0.3,0.32,0.34,0.36,0.38,0.4,0.42,0.44,0.46,0.48,0.5,0.52,0.54,0.56,0.58,0.6,0.62,0.64,0.66,0.68,0.7],
            "labelExpr": "abs(datum.value*10-round(datum.value*10))<0.01 ? format(datum.value,'.1f') : ''",
            "offset": -252, "labelPadding": 12,
            "title": "g̃", "titleFontStyle": "italic", "titleX": 0, "titleY": -23, "titleAlign": "center", "titleBaseline": "middle", "titleAngle": 0}},
        "detail": {"field": "c", "type": "nominal"},
        "order": {"value": null}
      }
    }
  ],
  "config": {
    "view": {"stroke": null},
    "axis": {
      "grid": false, "domainColor": "#111", "domainWidth": 1.1, "tickColor": "#555", "tickSize": -3, "tickWidth": 1,
      "labelFont": "DejaVu Serif", "labelFontSize": 18, "labelColor": "#1a1a1a", "labelPadding": 8,
      "labelFlush": false, "labelOverlap": false,
      "titleFont": "DejaVu Serif", "titleFontSize": 18, "titleFontWeight": "normal", "titleColor": "#1a1a1a"
    },
    "title": {"font": "DejaVu Serif", "fontSize": 23, "fontWeight": "normal", "color": "#1a1a1a", "anchor": "start", "frame": "group"}
  }
}
